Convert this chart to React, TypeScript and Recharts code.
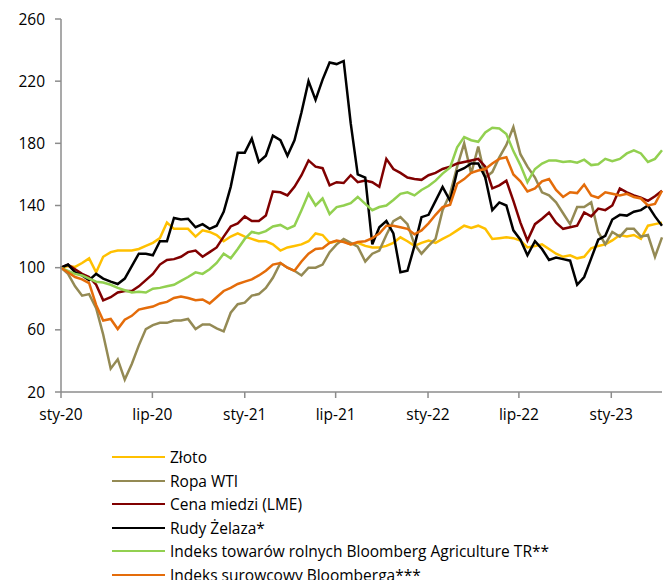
import { LineChart, Line, XAxis, YAxis } from 'recharts'

// biweekly observations, index 100 = start of 2020
const lastDay = 1197
const tickDays = [0, 182, 366, 547, 731, 912, 1096]
const tickLabels = ['sty-20', 'lip-20', 'sty-21', 'lip-21', 'sty-22', 'lip-22', 'sty-23']
const yTicks = [20, 60, 100, 140, 180, 220, 260]

const zloto = [
  100, 101, 100.5, 103, 106, 97, 107, 110, 111, 111,
  111, 112, 114, 116, 119, 129, 125, 125, 125, 120,
  124, 123, 121, 117, 120, 122, 120, 118.5, 117, 117,
  115, 111, 113, 114, 115, 117, 122, 121, 116, 117,
  117, 115, 116, 114, 113, 113, 114, 116, 119.5, 117,
  114, 116, 117.5, 116, 118.5, 121, 124, 127, 125.5, 127,
  125, 118.5, 119, 119.5, 119, 117.5, 113, 114, 115, 112,
  109, 107, 108, 106, 107, 112.5, 114, 115, 117.5, 121,
  120, 121, 118.5, 127, 128, 129,
]
const ropa = [
  100, 96, 88, 82, 83, 74, 57, 35, 41, 28,
  38, 50, 60.5, 63, 64.5, 64.5, 66, 66, 67, 60.5,
  63.5, 63.5, 61, 59, 71, 76.5, 77.5, 82, 83, 87,
  93.5, 103, 100, 98, 95, 100, 100, 102, 110, 115,
  118.5, 116, 113.5, 104, 109, 111, 121, 130, 132.5, 128,
  115, 109, 114, 118.5, 137, 147.5, 165, 180, 160.5, 178,
  158, 161.5, 171, 179, 190.5, 173, 165, 158, 148.5, 146.5,
  142, 135, 128, 139, 139, 142, 123, 115, 123, 120,
  125, 125, 120, 121, 107, 119.5,
]
const miedz = [
  100, 102, 99, 96, 94, 89, 79, 81, 84, 85,
  85, 88, 92, 96, 102, 105, 105.5, 107, 110, 111,
  107, 110, 113, 120, 126.5, 128.5, 133, 130, 130, 133.5,
  149, 148.5, 146.5, 152, 159.5, 169, 165, 164, 153, 155,
  154.5, 159.5, 155, 156, 155, 152, 170, 163.5, 161, 158,
  157, 156.5, 159.5, 161, 163.5, 165, 167, 168, 169, 170,
  165, 151, 153, 156, 143, 129, 117.5, 128, 131.5, 135.5,
  129, 125, 126, 127, 135.5, 133, 138, 137, 140, 151,
  148.5, 146.5, 145, 143, 146, 149.5,
]
const rudy = [
  100, 102, 97, 95, 92, 96, 93, 91, 89.5, 93,
  101, 109, 109, 108, 117, 117, 132, 131, 131.5, 126,
  128, 125, 127, 136, 152, 174, 174, 183, 168, 172,
  185, 182, 172, 182, 200, 220, 208, 221, 232, 231,
  233, 193, 160, 158, 115, 126, 130, 122, 97, 98,
  114, 132.5, 134, 143, 152, 143, 162, 164, 167, 167,
  158, 137, 142, 140, 124, 118, 108, 117, 112, 105,
  106.5, 105.5, 104.5, 89, 94, 106, 118, 120.5, 131, 134,
  133.5, 136, 137, 140, 133, 127,
]
const rolne = [
  100, 98, 96, 95, 93, 91, 90.5, 89, 87, 85.5,
  84, 84.5, 84, 86.5, 87, 88, 89, 91.5, 94, 97,
  96, 99, 103, 109, 106, 112, 118.5, 123, 122, 123.5,
  126.5, 127.5, 125, 127, 137, 147.5, 140, 144.5, 134.5, 139,
  140, 141.5, 145.5, 141, 137, 139, 140, 143.5, 147.5, 148.5,
  146.5, 150, 152.5, 156, 160.5, 164.5, 177.5, 184, 182, 181,
  187, 190, 189.5, 186, 175, 166, 155, 163.5, 167, 169,
  169, 168, 168.5, 167.5, 169.5, 166, 166.5, 170, 168.5, 170,
  173.5, 175.5, 173.5, 168, 170, 175.5,
]
const surowcowy = [
  100, 97, 94, 92.5, 90, 76, 66, 67, 60.5, 66.5,
  69, 73, 74, 75, 77, 78, 80.5, 81.5, 80.5, 79,
  79.5, 77, 81, 85, 87, 89.5, 91, 92.5, 95, 98,
  102, 103, 100, 98, 104, 109, 112, 112.5, 116, 117.5,
  116.5, 115, 116.5, 117, 119, 122, 127, 127, 126, 125,
  121.5, 124, 128.5, 134, 139, 140.5, 154, 157, 161, 162.5,
  163.5, 167, 170, 171, 160, 155.5, 149, 151, 155.5, 157,
  150, 145.5, 148.5, 148, 153.5, 146.5, 145, 148.5, 147.5, 146.5,
  147.5, 145.5, 144.5, 140, 141, 149.5,
]

const series = [
  { key: 'zloto', name: 'Złoto', color: '#FFC000', values: zloto },
  { key: 'ropa', name: 'Ropa WTI', color: '#948A54', values: ropa },
  { key: 'miedz', name: 'Cena miedzi (LME)', color: '#800000', values: miedz },
  { key: 'rudy', name: 'Rudy Żelaza*', color: '#000000', values: rudy },
  { key: 'rolne', name: 'Indeks towarów rolnych Bloomberg Agriculture TR**', color: '#92D050', values: rolne },
  { key: 'surowcowy', name: 'Indeks surowcowy Bloomberga***', color: '#E46C0A', values: surowcowy },
]

const data = zloto.map((_, i) => {
  const row: Record<string, number> = { day: Math.round((i * lastDay) / (zloto.length - 1)) }
  series.forEach((s) => {
    row[s.key] = s.values[i]
  })
  return row
})

const FONT = '"Open Sans", Lato, sans-serif'
const AXIS = '#8C8C8C'

function Legend() {
  return (
    <div style={{ position: 'absolute', left: 112, top: 445.5, fontFamily: FONT, fontSize: 15.5, color: '#000' }}>
      {series.map((s) => (
        <div key={s.key} style={{ display: 'flex', alignItems: 'center', height: 23.5, whiteSpace: 'nowrap' }}>
          <span style={{ display: 'inline-block', width: 53, height: 2, background: s.color, marginRight: 5 }} />
          <span>{s.name}</span>
        </div>
      ))}
    </div>
  )
}

export default function App() {
  return (
    <div style={{ position: 'absolute', left: 0, top: 0, width: 671, height: 580, background: '#fff', overflow: 'hidden' }}>
      <LineChart width={671} height={580} data={data} margin={{ top: 19, right: 9, left: 0, bottom: 158 }}>
        <XAxis
          dataKey="day"
          type="number"
          domain={[0, lastDay]}
          ticks={tickDays}
          tickFormatter={(d: number) => tickLabels[tickDays.indexOf(d)]}
          height={30}
          stroke={AXIS}
          strokeWidth={1.5}
          tickSize={6}
          tickMargin={11}
          tick={{ fill: '#000', fontSize: 15.5, fontFamily: FONT }}
          interval={0}
        />
        <YAxis
          type="number"
          domain={[20, 260]}
          ticks={yTicks}
          width={61}
          stroke={AXIS}
          strokeWidth={1.5}
          tickSize={6}
          tickMargin={10}
          tick={{ fill: '#000', fontSize: 15.5, fontFamily: FONT }}
          interval={0}
        />
        {series.map((s) => (
          <Line
            key={s.key}
            dataKey={s.key}
            name={s.name}
            type="linear"
            stroke={s.color}
            strokeWidth={2.5}
            dot={false}
            isAnimationActive={false}
          />
        ))}
      </LineChart>
      <Legend />
    </div>
  )
}
